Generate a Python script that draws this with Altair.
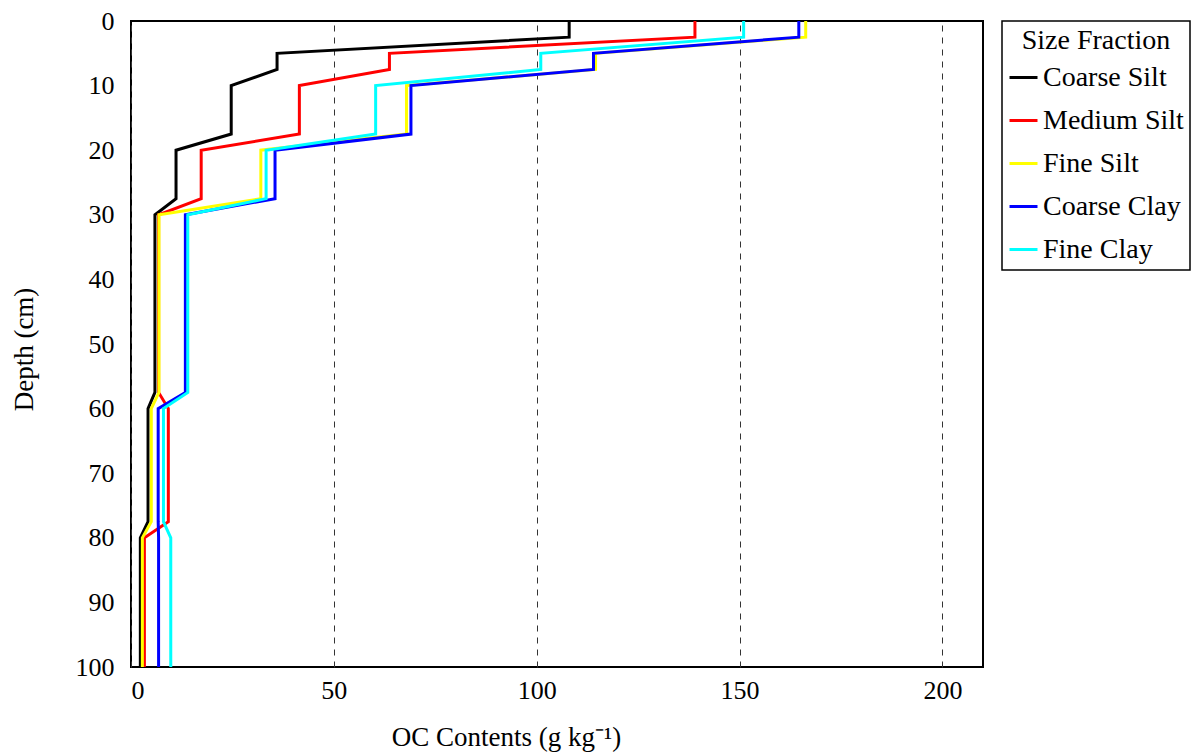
import altair as alt
import pandas as pd

# Depth points (cm) of each profile vertex
depth = [0, 2.5, 5, 7.5, 10, 17.5, 20, 27.5, 30, 57.5, 60, 77.5, 80, 100]

series_names = ["Coarse Silt", "Medium Silt", "Fine Silt", "Coarse Clay", "Fine Clay"]
series_colors = ["#000000", "#FF0000", "#FFFF00", "#0000FF", "#00FFFF"]

# OC contents (g/kg) at each depth point
coarse_silt = [108, 108, 36, 36, 24.7, 24.7, 11.1, 11.1, 5.9, 5.9, 4.2, 4.2, 2.3, 2.3]
medium_silt = [139, 139, 63.7, 63.7, 41.5, 41.5, 17.3, 17.3, 6.8, 6.8, 9.2, 9.2, 3.3, 3.3]
fine_silt = [166.3, 166.3, 114.5, 114.5, 67.9, 67.9, 32.0, 32.0, 6.9, 6.9, 5.0, 5.0, 2.8, 2.8]
coarse_clay = [164.6, 164.6, 114.0, 114.0, 69.0, 69.0, 35.5, 35.5, 13.4, 13.4, 6.7, 6.7, 6.8, 6.8]
fine_clay = [151, 151, 101, 101, 60.3, 60.3, 33.3, 33.3, 14.0, 14.0, 8.0, 8.0, 9.8, 9.8]

x_ticks = [0, 50, 100, 150, 200]
y_ticks = [0, 10, 20, 30, 40, 50, 60, 70, 80, 90, 100]

rows = []
for name, vals in zip(series_names, [coarse_silt, medium_silt, fine_silt, coarse_clay, fine_clay]):
    for i, (d, v) in enumerate(zip(depth, vals)):
        rows.append({"series": name, "depth": d, "oc": v, "idx": i})
df = pd.DataFrame(rows)

FONT = "Liberation Serif"

chart = alt.Chart(df).mark_line(strokeWidth=3, strokeJoin="miter").encode(
    x=alt.X(
        "oc:Q",
        scale=alt.Scale(domain=[0, 210], nice=False, zero=True),
        axis=alt.Axis(
            values=x_ticks, title="OC Contents (g kg⁻¹)", grid=True,
            gridDash=[6, 6], gridColor="#333333", gridWidth=1, ticks=False, domain=False,
            labelFontSize=26, labelPadding=10, labelColor="#000000",
            titleFontSize=27, titleFontWeight="normal", titleColor="#000000",
            titleX=375, titleY=70, titleAlign="center", titleBaseline="middle",
        ),
    ),
    y=alt.Y(
        "depth:Q",
        scale=alt.Scale(domain=[0, 100], reverse=True, nice=False),
        axis=alt.Axis(
            values=y_ticks, title="Depth (cm)", grid=False, ticks=False, domain=False,
            labelFontSize=26, labelPadding=17, labelColor="#000000",
            titleFontSize=27, titleFontWeight="normal", titleColor="#000000",
            titleX=-107, titleY=328, titleAngle=-90, titleAlign="center", titleBaseline="middle",
        ),
    ),
    color=alt.Color(
        "series:N",
        scale=alt.Scale(domain=series_names, range=series_colors),
        legend=alt.Legend(
            title="Size Fraction", orient="none", legendX=871, legendY=0,
            symbolType="stroke", symbolSize=784, symbolStrokeWidth=3,
            labelFontSize=28, titleFontSize=28, titleFontWeight="normal",
            labelColor="#000000", titleColor="#000000",
            titleAnchor="middle", titleAlign="center", titlePadding=7,
            labelOffset=4, rowPadding=13,
            strokeColor="#000000", fillColor="#FFFFFF", padding=6,
        ),
    ),
    order=alt.Order("idx:Q"),
).properties(
    width=852,
    height=646,
    autosize=alt.AutoSizeParams(type="none"),
    padding={"left": 131, "top": 21, "right": 215, "bottom": 89},
).configure(
    font=FONT,
).configure_legend(
    strokeWidth=1.5,
).configure_view(
    stroke="#000000", strokeWidth=2,
)

chart.save("out.html", embed_options={"renderer": "svg", "actions": False})
